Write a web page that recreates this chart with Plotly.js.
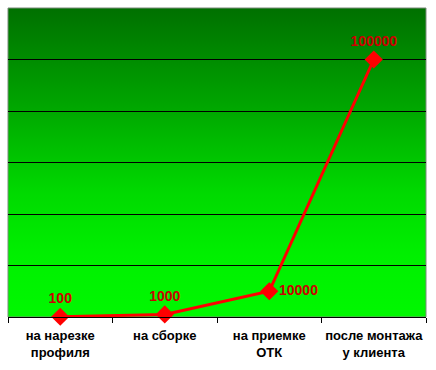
<!DOCTYPE html>
<html>
<head>
<meta charset="utf-8">
<script src="https://cdn.plot.ly/plotly-3.0.1.min.js"></script>
<style>html,body{margin:0;padding:0;background:#fff;}#chart{width:436px;height:370px;}</style>
</head>
<body>
<div id="chart"></div>
<script>
var categories = ["на нарезке<br>профиля", "на сборке", "на приемке<br>ОТК", "после монтажа<br>у клиента"];
var values = [100, 1000, 10000, 100000];
var labels = ["100", "1000", "10000", "100000"];
var labelPositions = ["top center", "top center", "middle right", "top center"];

var gradSvg = '<svg xmlns="http://www.w3.org/2000/svg" width="100" height="100" preserveAspectRatio="none">' +
  '<defs><linearGradient id="g" x1="0" y1="0" x2="0" y2="1">' +
  '<stop offset="0" stop-color="#007000"/>' +
  '<stop offset="0.33" stop-color="#00a800"/>' +
  '<stop offset="0.6" stop-color="#00da00"/>' +
  '<stop offset="0.8" stop-color="#00f000"/>' +
  '<stop offset="1" stop-color="#00f800"/>' +
  '</linearGradient></defs><rect width="100" height="100" fill="url(#g)"/></svg>';
var gradUri = 'data:image/svg+xml;base64,' + btoa(gradSvg);

var trace = {
  x: categories,
  y: values,
  type: "scatter",
  mode: "lines+markers+text",
  line: {color: "#ff0000", width: 3},
  marker: {symbol: "diamond", size: 14, color: "#ff0000"},
  text: labels,
  textposition: labelPositions,
  textfont: {family: "Liberation Sans, Arial, sans-serif", size: 14, color: "#cc0000", weight: "bold"},
  cliponaxis: false,
  hoverinfo: "none"
};

var layout = {
  width: 436,
  height: 370,
  margin: {l: 8, r: 10, t: 8, b: 53},
  paper_bgcolor: "#ffffff",
  plot_bgcolor: "rgba(0,0,0,0)",
  showlegend: false,
  font: {family: "Liberation Sans, Arial, sans-serif", color: "#000000"},
  xaxis: {
    type: "category",
    tickson: "boundaries",
    ticks: "outside",
    ticklen: 5,
    tickcolor: "#000000",
    tickwidth: 1,
    tickangle: 0,
    ticklabelstandoff: 6,
    showline: true,
    linecolor: "#000000",
    linewidth: 1,
    showgrid: false,
    zeroline: false,
    tickfont: {family: "Liberation Sans, Arial, sans-serif", size: 13, color: "#000000", weight: "bold"},
    range: [-0.5, 3.5]
  },
  yaxis: {
    range: [0, 120000],
    dtick: 20000,
    showgrid: true,
    gridcolor: "#000000",
    gridwidth: 1,
    showticklabels: false,
    ticks: "",
    zeroline: false,
    showline: false
  },
  images: [{
    source: gradUri,
    xref: "paper", yref: "paper",
    x: 0, y: 1, sizex: 1, sizey: 1,
    sizing: "stretch",
    layer: "below",
    xanchor: "left", yanchor: "top"
  }],
  shapes: [{
    type: "rect", xref: "paper", yref: "paper",
    x0: 0, x1: 1, y0: 0, y1: 1,
    line: {color: "#7a8a7a", width: 1},
    layer: "below"
  }]
};

Plotly.newPlot("chart", [trace], layout, {displayModeBar: false, staticPlot: true});
</script>
</body>
</html>
